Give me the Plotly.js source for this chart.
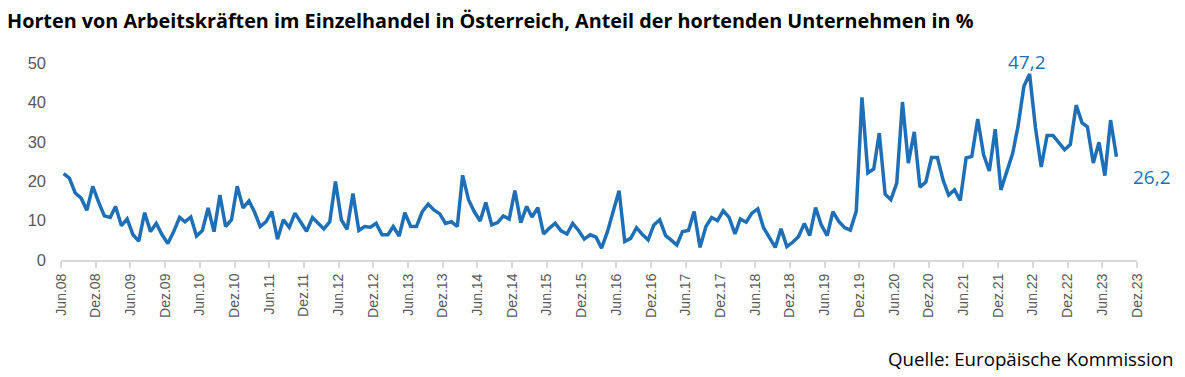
<!DOCTYPE html>
<html>
<head>
<meta charset="utf-8">
<script src="https://cdn.plot.ly/plotly-3.0.1.min.js"></script>
<style>
html,body{margin:0;padding:0;background:#fff;}
#chart{width:1185px;height:377px;}
</style>
</head>
<body>
<div id="chart"></div>
<script>
// Monthly series, first value = June 2008
const startYear = 2008;
const startMonth = 6;
const values = [
  21.9, 20.8, 17.0, 15.7, 12.6, 18.7, 14.8, 11.2, 10.8, 13.6,
  8.7, 10.4, 6.4, 4.8, 12.0, 7.2, 9.3, 6.4, 4.2, 7.2,
  10.8, 9.7, 10.9, 6.1, 7.5, 13.2, 7.2, 16.5, 8.5, 10.2,
  18.7, 13.2, 15.0, 12.3, 8.5, 9.7, 12.3, 5.3, 10.2, 8.3,
  11.9, 9.7, 7.3, 10.8, 9.3, 7.9, 9.7, 19.9, 10.2, 7.8,
  16.9, 7.5, 8.5, 8.3, 9.3, 6.4, 6.4, 8.5, 6.1, 12.0,
  8.5, 8.5, 12.3, 14.2, 12.7, 11.7, 9.3, 9.7, 8.5, 21.5,
  15.3, 12.3, 9.9, 14.6, 8.9, 9.5, 11.2, 10.4, 17.6, 9.5,
  13.6, 10.9, 13.3, 6.6, 8.1, 9.3, 7.4, 6.6, 9.3, 7.5,
  5.3, 6.4, 5.8, 3.0, 7.2, 12.3, 17.6, 4.7, 5.5, 8.2,
  6.5, 5.1, 8.9, 10.2, 6.2, 5.1, 3.8, 7.2, 7.5, 12.3,
  3.2, 8.5, 10.8, 10.0, 12.5, 10.8, 6.6, 10.4, 9.6, 11.9,
  13.0, 8.2, 5.7, 3.2, 7.9, 3.4, 4.5, 5.9, 9.3, 6.2,
  13.3, 8.9, 6.2, 12.3, 9.8, 8.2, 7.6, 12.4, 41.3, 22.1,
  23.1, 32.2, 16.7, 15.3, 19.5, 40.1, 24.6, 32.5, 18.5, 19.8,
  26.0, 26.0, 20.1, 16.5, 17.8, 15.1, 25.9, 26.3, 35.8, 26.7,
  22.6, 33.2, 17.8, 22.5, 27.1, 33.9, 44.1, 47.2, 33.5, 23.6,
  31.6, 31.6, 29.9, 28.0, 29.3, 39.3, 34.8, 33.8, 24.6, 29.9,
  21.4, 35.5, 26.2
];
const tickLabels = [
  "Jun.08","Dez.08","Jun.09","Dez.09","Jun.10","Dez.10","Jun.11","Dez.11",
  "Jun.12","Dez.12","Jun.13","Dez.13","Jun.14","Dez.14","Jun.15","Dez.15",
  "Jun.16","Dez.16","Jun.17","Dez.17","Jun.18","Dez.18","Jun.19","Dez.19",
  "Jun.20","Dez.20","Jun.21","Dez.21","Jun.22","Dez.22","Jun.23","Dez.23"
];
const yTicks = [0, 10, 20, 30, 40, 50];
const titleText = "Horten von Arbeitskräften im Einzelhandel in Österreich, Anteil der hortenden Unternehmen in %";
const sourceText = "Quelle: Europäische Kommission";

function pad(n){ return (n < 10 ? "0" : "") + n; }
const dates = values.map((v, i) => {
  const m0 = (startMonth - 1) + i;
  const y = startYear + Math.floor(m0 / 12);
  const m = (m0 % 12) + 1;
  return y + "-" + pad(m) + "-15";
});
const monthMap = {Jun: "06", Dez: "12"};
const tickVals = tickLabels.map(t => {
  const [mon, yy] = t.split(".");
  return "20" + yy + "-" + monthMap[mon] + "-01";
});

const blue = "#1f6fb6";
const fmt = v => v.toFixed(1).replace(".", ",");
let maxIdx = 0;
values.forEach((v, i) => { if (v > values[maxIdx]) maxIdx = i; });
const lastIdx = values.length - 1;

const trace = {
  x: dates, y: values, type: "scatter", mode: "lines",
  line: {color: blue, width: 3.5, shape: "linear"},
  hoverinfo: "x+y"
};

const layout = {
  width: 1185, height: 377,
  margin: {l: 61, r: 48, t: 63, b: 117},
  paper_bgcolor: "#ffffff", plot_bgcolor: "#ffffff",
  showlegend: false,
  font: {family: "Open Sans, Liberation Sans, Arial, sans-serif", color: "#595959"},
  xaxis: {
    type: "date",
    range: [tickVals[0], tickVals[tickVals.length - 1]],
    tickmode: "array", tickvals: tickVals, ticktext: tickLabels,
    tickangle: -90,
    tickfont: {size: 14, color: "#595959", family: "Liberation Sans, Arial, sans-serif"},
    showgrid: false, zeroline: false,
    showline: true, linecolor: "#d9d9d9", linewidth: 2,
    ticks: "outside", ticklen: 6, tickcolor: "#d9d9d9", tickwidth: 2
  },
  yaxis: {
    range: [0, 50],
    tickmode: "array", tickvals: yTicks,
    tickfont: {size: 16.5, color: "#595959", family: "Liberation Sans, Arial, sans-serif"},
    showgrid: false, zeroline: false, showline: false,
    ticks: "", ticklabelstandoff: 14
  },
  annotations: [
    {
      xref: "paper", yref: "paper", x: -0.052, y: 1.218,
      xanchor: "left", yanchor: "middle",
      text: "<b>" + titleText + "</b>", showarrow: false,
      font: {size: 19.8, color: "#000000", family: "Open Sans, Liberation Sans, Arial, sans-serif"}
    },
    {
      xref: "paper", yref: "paper", x: 1.035, y: -0.5,
      xanchor: "right", yanchor: "middle",
      text: sourceText, showarrow: false,
      font: {size: 18.7, color: "#000000", family: "Open Sans, Liberation Sans, Arial, sans-serif"}
    },
    {
      x: dates[maxIdx], y: values[maxIdx], xref: "x", yref: "y",
      text: fmt(values[maxIdx]), showarrow: false,
      xanchor: "center", yanchor: "bottom", yshift: -3, xshift: -3,
      font: {size: 19, color: blue, family: "Open Sans, Liberation Sans, Arial, sans-serif"}
    },
    {
      x: dates[lastIdx], y: values[lastIdx], xref: "x", yref: "y",
      text: fmt(values[lastIdx]), showarrow: false,
      xanchor: "left", yanchor: "middle", xshift: 15, yshift: -20,
      font: {size: 19, color: blue, family: "Open Sans, Liberation Sans, Arial, sans-serif"}
    }
  ]
};

Plotly.newPlot("chart", [trace], layout, {displayModeBar: false, staticPlot: true});
</script>
</body>
</html>
